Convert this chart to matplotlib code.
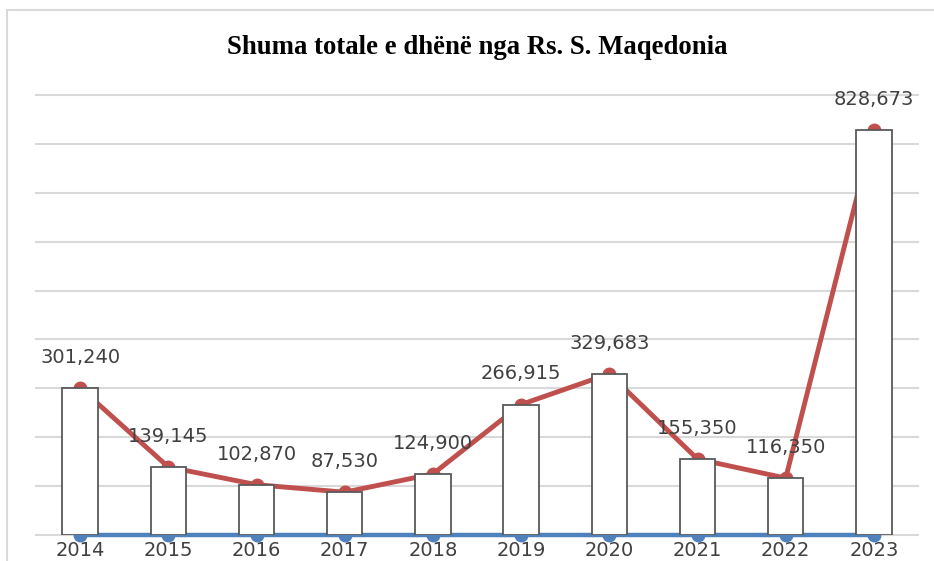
import matplotlib.pyplot as plt
import matplotlib.patches as mpatches
import numpy as np

years = ["2014", "2015", "2016", "2017", "2018", "2019", "2020", "2021", "2022", "2023"]
amounts = [301240, 139145, 102870, 87530, 124900, 266915, 329683, 155350, 116350, 828673]
zero_line = [0] * len(years)

label_color = "#404040"
red = "#C0504D"
blue = "#4F81BD"

fig = plt.figure(figsize=(9.34, 5.61), dpi=100)
ax = fig.add_axes([36 / 934, 26 / 561, 882 / 934, 440 / 561])

# outer chart frame (cut off at right and bottom like the source)
fig.patches.append(mpatches.Rectangle((7 / 934, -0.1), 1.2, 1 - 10 / 561 + 0.1,
                                      transform=fig.transFigure, fill=False,
                                      edgecolor="#D9D9D9", linewidth=1.5))

x = np.arange(len(years))
ax.plot(x, zero_line, color=blue, linewidth=3.2, marker="o", markersize=9,
        zorder=2, clip_on=False)
ax.plot(x, amounts, color=red, linewidth=3.5, marker="o", markersize=9,
        zorder=2, clip_on=False)
ax.bar(x, amounts, width=0.4, color="white", edgecolor="#595959",
       linewidth=1.3, zorder=3)

for xi, v in zip(x, amounts):
    ax.annotate(f"{v:,}", (xi, v), xytext=(0, 22), textcoords="offset points",
                ha="center", va="center", fontsize=14, color=label_color, zorder=5)

ax.set_xlim(-0.5, len(years) - 0.5)
ax.set_ylim(0, 900000)
ax.set_yticks(np.arange(0, 900001, 100000))
ax.yaxis.grid(True, color="#D9D9D9", linewidth=1.5)
for gl in ax.get_ygridlines():
    gl.set_clip_on(False)
ax.set_axisbelow(True)
ax.set_yticklabels([])
ax.tick_params(axis="y", length=0)
ax.set_xticks(x)
ax.set_xticklabels(years, fontsize=14, color=label_color)
ax.tick_params(axis="x", length=0, pad=4)
for s in ax.spines.values():
    s.set_visible(False)

fig.text(477 / 934, 1 - 47 / 561, "Shuma totale e dhënë nga Rs. S. Maqedonia",
         ha="center", va="center", fontsize=19.3, fontweight="bold",
         family="Liberation Serif", color="black")

fig.savefig("out.png", dpi=100)
